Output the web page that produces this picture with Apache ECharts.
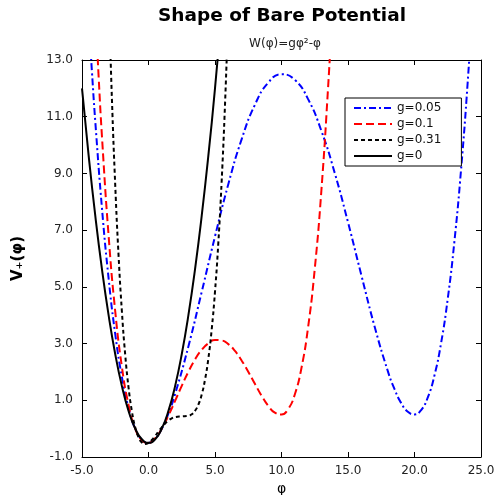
<!DOCTYPE html>
<html>
<head>
<meta charset="utf-8">
<script src="https://cdn.jsdelivr.net/npm/echarts@6/dist/echarts.min.js"></script>
<style>html,body{margin:0;padding:0;background:#fff}#c{width:495px;height:495px}</style>
</head>
<body>
<div id="c"></div>
<script>
var seriesNames = ['g=0.05', 'g=0.1', 'g=0.31', 'g=0'];
var xTicks = [-5, 0, 5, 10, 15, 20, 25];
var yTicks = [-1, 1, 3, 5, 7, 9, 11, 13];

var phiG005 = [-4.5,-4.25,-4,-3.5,-3,-2.5,-2,-1.5,-1,-0.5,0,0.5,1,1.5,2,3,4,5,6,7,8,9,10,11,12,13,14,15,16,17,18,18.5,19,19.5,20,20.5,21,21.5,22,22.5,23,23.5,24,24.5];
var vG005 = [14.47,12.57,10.82,7.78,5.30,3.33,1.82,0.725,0.001,-0.394,-0.5,-0.356,0.001,0.538,1.22,2.90,4.82,6.78,8.62,10.20,11.42,12.20,12.5,12.30,11.62,10.50,9.02,7.28,5.42,3.60,2.02,1.39,0.90,0.594,0.5,0.656,1.10,1.875,3.02,4.58,6.60,9.13,12.22,15.92];

var phiG01 = [-4,-3.75,-3.5,-3,-2.5,-2,-1.5,-1,-0.5,0,0.5,1,1.5,2,2.5,3,3.5,4,4.5,5,5.5,6,6.5,7,7.5,8,8.5,9,9.5,10,10.5,11,11.5,12,12.5,13,13.5,13.75,14];
var vG01 = [14.78,12.42,10.31,6.805,4.13,2.18,0.838,0.005,-0.412,-0.5,-0.337,0.005,0.463,0.98,1.51,2.005,2.44,2.78,3.01,3.125,3.11,2.98,2.74,2.405,2.01,1.58,1.163,0.805,0.563,0.5,0.688,1.205,2.138,3.58,5.63,8.405,12.01,14.17,16.58];

var phiG031 = [-3,-2.75,-2.5,-2.25,-2,-1.75,-1.5,-1.25,-1,-0.75,-0.5,-0.25,0,0.25,0.5,0.75,1,1.25,1.5,1.75,2,2.5,3,3.25,3.5,3.75,4,4.25,4.5,4.75,5,5.25,5.5,5.75,6];
var vG031 = [15.33,11.62,8.57,6.10,4.13,2.60,1.45,0.616,0.048,-0.305,-0.488,-0.541,-0.5,-0.396,-0.256,-0.102,0.048,0.181,0.287,0.363,0.409,0.433,0.452,0.508,0.629,0.848,1.20,1.73,2.47,3.49,4.83,6.55,8.72,11.40,14.67];

var phiG0 = [-5,-4.5,-4,-3.5,-3,-2.5,-2,-1.5,-1,-0.5,0,0.5,1,1.5,2,2.5,3,3.5,4,4.5,5,5.5];
var vG0 = [12,9.625,7.5,5.625,4,2.625,1.5,0.625,0,-0.375,-0.5,-0.375,0,0.625,1.5,2.625,4,5.625,7.5,9.625,12,14.625];

function pairs(xs, ys) { return xs.map(function (x, i) { return [x, ys[i]]; }); }

var FONT = 'DejaVu Sans';
var chart = echarts.init(document.getElementById('c'), null, {renderer: 'canvas'});

function mkX(pos, show) {
  return {
    type: 'value', position: pos, min: xTicks[0], max: xTicks[xTicks.length - 1], interval: 5,
    axisLine: {show: true, onZero: false, lineStyle: {color: '#000', width: 1}},
    axisTick: {show: true, inside: true, length: 5, lineStyle: {color: '#000'}},
    axisLabel: {show: show, margin: 8, color: '#222', fontFamily: FONT, fontSize: 12,
      formatter: function (v) { return v.toFixed(1); }},
    splitLine: {show: false},
    name: show ? 'φ' : '', nameLocation: 'middle', nameGap: 23,
    nameTextStyle: {fontFamily: FONT, fontSize: 14, color: '#000'}
  };
}
function mkY(pos, show) {
  return {
    type: 'value', position: pos, min: yTicks[0], max: yTicks[yTicks.length - 1], interval: 2,
    axisLine: {show: true, onZero: false, lineStyle: {color: '#000', width: 1}},
    axisTick: {show: true, inside: true, length: 5, lineStyle: {color: '#000'}},
    axisLabel: {show: show, margin: 9, color: '#222', fontFamily: FONT, fontSize: 12,
      formatter: function (v) { return v.toFixed(1); }},
    splitLine: {show: false},
    name: show ? 'V₊(φ)' : '', nameLocation: 'middle', nameGap: 56,
    nameTextStyle: {fontFamily: FONT, fontSize: 15, fontWeight: 'bold', color: '#000'}
  };
}

var styles = [
  {color: '#0000ff', type: [7, 3, 2, 3]},
  {color: '#ff0000', type: [8, 4]},
  {color: '#000000', type: [4, 3]},
  {color: '#000000', type: 'solid'}
];
var datas = [pairs(phiG005, vG005), pairs(phiG01, vG01), pairs(phiG031, vG031), pairs(phiG0, vG0)];

chart.setOption({
  animation: false,
  backgroundColor: '#fff',
  title: [
    {text: 'Shape of Bare Potential', left: 282, top: 7, textAlign: 'center', padding: 0,
      textStyle: {fontFamily: FONT, fontSize: 18.5, fontWeight: 'bold', color: '#000'}},
    {text: 'W(φ)=gφ²-φ', left: 285, top: 38, textAlign: 'center', padding: 0,
      textStyle: {fontFamily: FONT, fontSize: 12, fontWeight: 'normal', color: '#222'}}
  ],
  grid: {left: 82, right: 14, top: 60, bottom: 38, containLabel: false, outerBoundsMode: 'none'},
  xAxis: [mkX('bottom', true), mkX('top', false)],
  yAxis: [mkY('left', true), mkY('right', false)],
  legend: {
    orient: 'vertical', left: 345, top: 98,
    padding: [4, 20, 4, 8], itemWidth: 38, itemHeight: 13, itemGap: 4,
    borderColor: '#000', borderWidth: 1, backgroundColor: '#fff',
    itemStyle: {opacity: 0},
    textStyle: {fontFamily: FONT, fontSize: 12, color: '#111'},
    data: seriesNames
  },
  series: seriesNames.map(function (n, i) {
    return {
      name: n, type: 'line', xAxisIndex: 0, yAxisIndex: 0,
      data: datas[i], smooth: true, symbol: 'none', showSymbol: false, clip: true,
      color: styles[i].color,
      lineStyle: {color: styles[i].color, width: 2, type: styles[i].type},
      z: 2 + i
    };
  })
});
</script>
</body>
</html>
